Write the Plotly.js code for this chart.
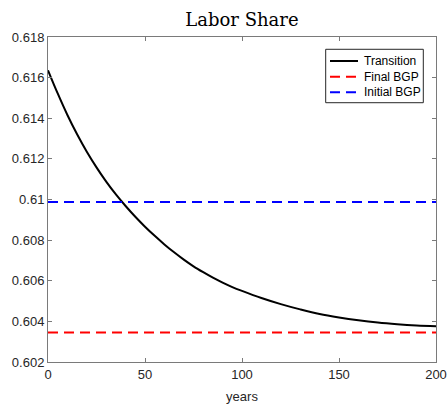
<!DOCTYPE html>
<html>
<head>
<meta charset="utf-8">
<script src="https://cdn.plot.ly/plotly-3.0.1.min.js"></script>
<style>html,body{margin:0;padding:0;background:#fff;}#chart{width:448px;height:407px;}</style>
</head>
<body>
<div id="chart"></div>
<script>
// Data
const years = [0,5,10,15,20,25,30,35,40,45,50,55,60,65,70,75,80,85,90,95,100,110,120,130,140,150,160,170,180,190,200];
const transition = [0.61636,0.61522,0.61416,0.61321,0.61235,0.61158,0.61088,0.61025,0.60968,0.60915,0.60866,0.60821,0.60779,0.60740,0.60704,0.60671,0.60642,0.60615,0.60591,0.60569,0.60550,0.60515,0.60485,0.60459,0.60436,0.60419,0.60405,0.60394,0.60386,0.60380,0.60376];
const bgpYears = [0, 200];
const finalBGP = [0.60345, 0.60345];
const initialBGP = [0.60988, 0.60988];
const yTicks = [0.602,0.604,0.606,0.608,0.61,0.612,0.614,0.616,0.618];
const yTickText = ['0.602','0.604','0.606','0.608','0.61','0.612','0.614','0.616','0.618'];
const xTicks = [0,50,100,150,200];
const seriesNames = ['Transition', 'Final BGP', 'Initial BGP'];
const seriesColors = ['#000000', '#ff0000', '#0000ff'];
const seriesDash = ['solid', '10px,6px', '10px,6px'];

const traces = [
  {x: years, y: transition, type: 'scatter', mode: 'lines', name: seriesNames[0],
   line: {color: seriesColors[0], width: 2, shape: 'spline', smoothing: 1}},
  {x: bgpYears, y: finalBGP, type: 'scatter', mode: 'lines', name: seriesNames[1],
   line: {color: seriesColors[1], width: 2, dash: seriesDash[1]}},
  {x: bgpYears, y: initialBGP, type: 'scatter', mode: 'lines', name: seriesNames[2],
   line: {color: seriesColors[2], width: 2, dash: seriesDash[2]}}
];

const axisCommon = {
  showgrid: false, zeroline: false, showline: true, mirror: 'ticks',
  linecolor: '#7a7a7a', linewidth: 1, ticks: 'inside', ticklen: 4,
  tickcolor: '#7a7a7a', tickwidth: 1,
  tickfont: {family: 'Liberation Sans, Arial, sans-serif', size: 13, color: '#262626'}
};

// Legend drawn as a boxed key (paper coordinates)
const legBox = {x0: 0.7157, x1: 0.9673, y0: 0.7978, y1: 0.9622};
const legRows = [0.9262, 0.8778, 0.8298];
const legLineX = [0.7268, 0.7990];
const legTextX = 0.8093;

const shapes = [{type: 'rect', xref: 'paper', yref: 'paper',
  x0: legBox.x0, x1: legBox.x1, y0: legBox.y0, y1: legBox.y1,
  line: {color: '#262626', width: 1}, fillcolor: '#ffffff', layer: 'above'}];
const annotations = [];
seriesNames.forEach((nm, i) => {
  shapes.push({type: 'line', xref: 'paper', yref: 'paper',
    x0: legLineX[0], x1: legLineX[1], y0: legRows[i], y1: legRows[i],
    line: {color: seriesColors[i], width: 2, dash: seriesDash[i]}, layer: 'above'});
  annotations.push({xref: 'paper', yref: 'paper', x: legTextX, y: legRows[i],
    xanchor: 'left', yanchor: 'middle', text: nm, showarrow: false,
    font: {family: 'Liberation Sans, Arial, sans-serif', size: 12, color: '#000000'}});
});

const layout = {
  width: 448, height: 407,
  margin: {l: 48, r: 12, t: 37, b: 45, pad: 0},
  paper_bgcolor: '#ffffff', plot_bgcolor: '#ffffff',
  title: {text: 'Labor Share', x: 0.54, xanchor: 'center', y: 0.951, yanchor: 'middle',
          font: {family: 'DejaVu Serif, serif', size: 18, color: '#000000'}},
  xaxis: Object.assign({}, axisCommon, {
    range: [0, 200], tickvals: xTicks, ticktext: xTicks.map(String),
    title: {text: 'years', standoff: 11,
            font: {family: 'Liberation Sans, Arial, sans-serif', size: 13, color: '#262626'}}
  }),
  yaxis: Object.assign({}, axisCommon, {
    range: [0.602, 0.618], tickvals: yTicks, ticktext: yTickText
  }),
  showlegend: false,
  shapes: shapes,
  annotations: annotations
};

Plotly.newPlot('chart', traces, layout, {displayModeBar: false, staticPlot: true});
</script>
</body>
</html>
